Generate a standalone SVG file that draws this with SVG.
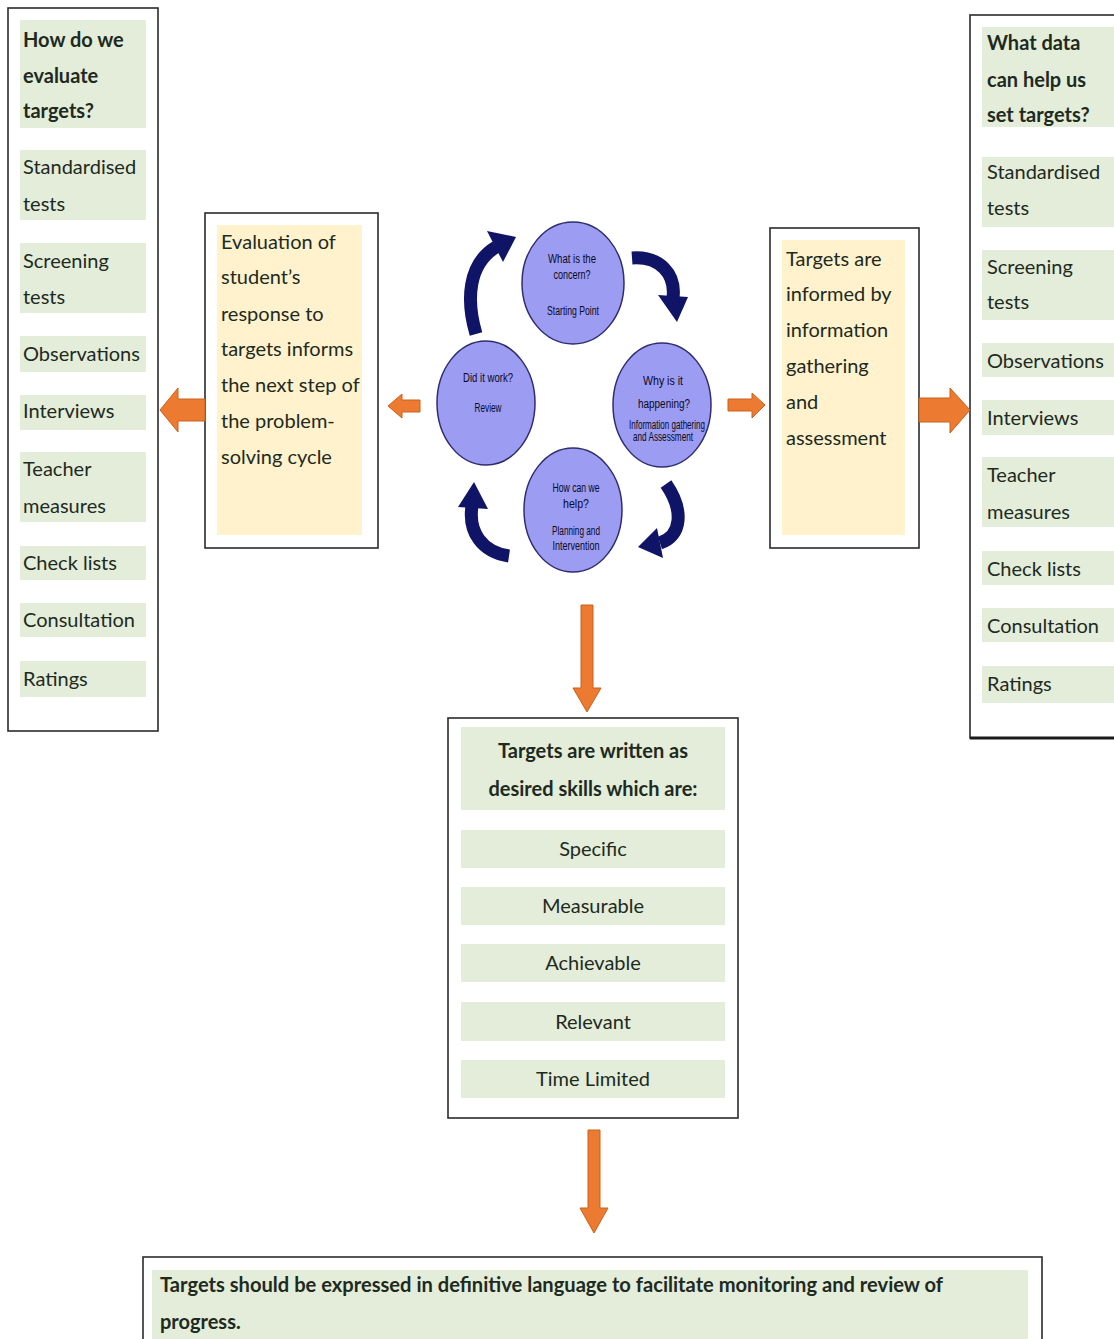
<svg xmlns="http://www.w3.org/2000/svg" width="1114" height="1339" viewBox="0 0 1114 1339">
<style>
.frame{fill:#fff;stroke:#2b2b2b;stroke-width:1.6}
.g{fill:#E3EDD9}
.c{fill:#FFF2CC}
.t{font-family:Lato,"Open Sans",sans-serif;font-size:20px;fill:#1e2a1e}
.b{font-weight:bold}
.ctr{text-anchor:middle}
.oa{fill:#EC7A30;stroke:#C9621D;stroke-width:1}
.circ{fill:#9C9CF2;stroke:#2E2E6E;stroke-width:1.5}
.ct{font-family:"Liberation Sans",Arial,sans-serif;font-size:12.5px;fill:#0a0a20;text-anchor:middle}
.ca{fill:none;stroke:#101466;stroke-width:13;stroke-linecap:butt}
.ch{fill:#101466}
</style>
<rect width="1114" height="1339" fill="#fff"/>

<g id="left-list">
<rect class="frame" x="8" y="8" width="150" height="723"/>
<rect class="g" x="20" y="20" width="126" height="108"/>
<text class="t b" x="23" y="47">How do we</text>
<text class="t b" x="23" y="83">evaluate</text>
<text class="t b" x="23" y="118">targets?</text>
<rect class="g" x="20" y="150" width="126" height="70"/>
<text class="t" x="23" y="174">Standardised</text>
<text class="t" x="23" y="211">tests</text>
<rect class="g" x="20" y="243" width="126" height="70"/>
<text class="t" x="23" y="268">Screening</text>
<text class="t" x="23" y="304">tests</text>
<rect class="g" x="20" y="336" width="126" height="36"/>
<text class="t" x="23" y="361">Observations</text>
<rect class="g" x="20" y="395" width="126" height="35"/>
<text class="t" x="23" y="418">Interviews</text>
<rect class="g" x="20" y="452" width="126" height="70"/>
<text class="t" x="23" y="476">Teacher</text>
<text class="t" x="23" y="513">measures</text>
<rect class="g" x="20" y="546" width="126" height="34"/>
<text class="t" x="23" y="570">Check lists</text>
<rect class="g" x="20" y="603" width="126" height="34"/>
<text class="t" x="23" y="627">Consultation</text>
<rect class="g" x="20" y="661" width="126" height="36"/>
<text class="t" x="23" y="686">Ratings</text>
</g>

<g id="right-list">
<rect class="frame" x="970" y="15" width="160" height="723"/>
<line x1="970" y1="738" x2="1114" y2="738" stroke="#1a1a1a" stroke-width="3"/>
<rect class="g" x="982" y="27" width="132" height="100"/>
<text class="t b" x="987" y="50">What data</text>
<text class="t b" x="987" y="87">can help us</text>
<text class="t b" x="987" y="122">set targets?</text>
<rect class="g" x="982" y="157" width="132" height="70"/>
<text class="t" x="987" y="179">Standardised</text>
<text class="t" x="987" y="215">tests</text>
<rect class="g" x="982" y="250" width="132" height="70"/>
<text class="t" x="987" y="274">Screening</text>
<text class="t" x="987" y="309">tests</text>
<rect class="g" x="982" y="343" width="132" height="34"/>
<text class="t" x="987" y="368">Observations</text>
<rect class="g" x="982" y="400" width="132" height="35"/>
<text class="t" x="987" y="425">Interviews</text>
<rect class="g" x="982" y="457" width="132" height="70"/>
<text class="t" x="987" y="482">Teacher</text>
<text class="t" x="987" y="519">measures</text>
<rect class="g" x="982" y="551" width="132" height="34"/>
<text class="t" x="987" y="576">Check lists</text>
<rect class="g" x="982" y="608" width="132" height="34"/>
<text class="t" x="987" y="633">Consultation</text>
<rect class="g" x="982" y="666" width="132" height="37"/>
<text class="t" x="987" y="691">Ratings</text>
</g>

<g id="evaluation-box">
<rect class="frame" x="205" y="213" width="173" height="335"/>
<rect class="c" x="217" y="225" width="145" height="310"/>
<text class="t" x="221" y="249">Evaluation of</text>
<text class="t" x="221" y="284">student’s</text>
<text class="t" x="221" y="321">response to</text>
<text class="t" x="221" y="356">targets informs</text>
<text class="t" x="221" y="392">the next step of</text>
<text class="t" x="221" y="428">the problem-</text>
<text class="t" x="221" y="464">solving cycle</text>
</g>

<g id="informed-box">
<rect class="frame" x="770" y="228" width="149" height="320"/>
<rect class="c" x="782" y="240" width="123" height="295"/>
<text class="t" x="786" y="266">Targets are</text>
<text class="t" x="786" y="301">informed by</text>
<text class="t" x="786" y="337">information</text>
<text class="t" x="786" y="373">gathering</text>
<text class="t" x="786" y="409">and</text>
<text class="t" x="786" y="445">assessment</text>
</g>

<g id="cycle">
<g id="circle-concern">
<ellipse class="circ" cx="573" cy="283" rx="51" ry="61"/>
<text class="ct" x="572" y="263" textLength="48" lengthAdjust="spacingAndGlyphs">What is the</text>
<text class="ct" x="572" y="279" textLength="37" lengthAdjust="spacingAndGlyphs">concern?</text>
<text class="ct" x="573" y="315" textLength="52" lengthAdjust="spacingAndGlyphs">Starting Point</text>
</g>
<g id="circle-review">
<ellipse class="circ" cx="486" cy="403" rx="49" ry="62"/>
<text class="ct" x="488" y="382" textLength="50" lengthAdjust="spacingAndGlyphs">Did it work?</text>
<text class="ct" x="488" y="412" textLength="27" lengthAdjust="spacingAndGlyphs">Review</text>
</g>
<g id="circle-why">
<ellipse class="circ" cx="662" cy="405" rx="49" ry="62"/>
<text class="ct" x="663" y="385" textLength="40" lengthAdjust="spacingAndGlyphs">Why is it</text>
<text class="ct" x="664" y="408" textLength="52" lengthAdjust="spacingAndGlyphs">happening?</text>
<text class="ct" x="667" y="429" font-size="9" textLength="76" lengthAdjust="spacingAndGlyphs">Information gathering</text>
<text class="ct" x="663" y="441" font-size="9" textLength="60" lengthAdjust="spacingAndGlyphs">and Assessment</text>
</g>
<g id="circle-help">
<ellipse class="circ" cx="573" cy="510" rx="49" ry="62"/>
<text class="ct" x="576" y="492" textLength="47" lengthAdjust="spacingAndGlyphs">How can we</text>
<text class="ct" x="576" y="508" textLength="26" lengthAdjust="spacingAndGlyphs">help?</text>
<text class="ct" x="576" y="535" textLength="48" lengthAdjust="spacingAndGlyphs">Planning and</text>
<text class="ct" x="576" y="550" textLength="47" lengthAdjust="spacingAndGlyphs">Intervention</text>
</g>
<g id="cycle-arrows">
<path class="ca" d="M476 334 C466 300 468 264 496 247"/>
<polygon class="ch" points="516,237 487,231 503,262"/>
<path class="ca" d="M632 258 C660 256 676 274 673 298"/>
<polygon class="ch" points="677,322 658,295 688,297"/>
<path class="ca" d="M666 484 C684 510 682 536 660 543"/>
<polygon class="ch" points="638,547 657,528 663,558"/>
<path class="ca" d="M509 556 C482 552 468 532 472 506"/>
<polygon class="ch" points="474,482 458,507 488,509"/>
</g>
</g>

<g id="smart-box">
<rect class="frame" x="448" y="718" width="290" height="400"/>
<rect class="g" x="461" y="727" width="264" height="83"/>
<text class="t b ctr" x="593" y="758" font-size="22">Targets are written as</text>
<text class="t b ctr" x="593" y="796" font-size="22">desired skills which are:</text>
<rect class="g" x="461" y="830" width="264" height="38"/>
<text class="t ctr" x="593" y="856">Specific</text>
<rect class="g" x="461" y="887" width="264" height="38"/>
<text class="t ctr" x="593" y="913">Measurable</text>
<rect class="g" x="461" y="944" width="264" height="38"/>
<text class="t ctr" x="593" y="970">Achievable</text>
<rect class="g" x="461" y="1002" width="264" height="39"/>
<text class="t ctr" x="593" y="1029">Relevant</text>
<rect class="g" x="461" y="1060" width="264" height="38"/>
<text class="t ctr" x="593" y="1086">Time Limited</text>
</g>

<g id="definitive-box">
<rect class="frame" x="143" y="1257" width="899" height="100"/>
<rect class="g" x="152" y="1270" width="876" height="80"/>
<text class="t b" x="160" y="1292" font-size="19" textLength="783" lengthAdjust="spacingAndGlyphs">Targets should be expressed in definitive language to facilitate monitoring and review of</text>
<text class="t b" x="160" y="1329" font-size="19">progress.</text>
</g>

<g id="connectors">
<polygon class="oa" points="160,410 178,388 178,399 205,399 205,421 178,421 178,432"/>
<polygon class="oa" points="388,406 402,394 402,400 420,400 420,412 402,412 402,418"/>
<polygon class="oa" points="765,405 752,393 752,399 728,399 728,411 752,411 752,418"/>
<polygon class="oa" points="970,410 950,388 950,398 919,398 919,422 950,422 950,433"/>
<polygon class="oa" points="587,712 573,688 581,688 581,605 593,605 593,688 601,688"/>
<polygon class="oa" points="594,1233 580,1208 588,1208 588,1130 600,1130 600,1208 608,1208"/>
</g>
</svg>
